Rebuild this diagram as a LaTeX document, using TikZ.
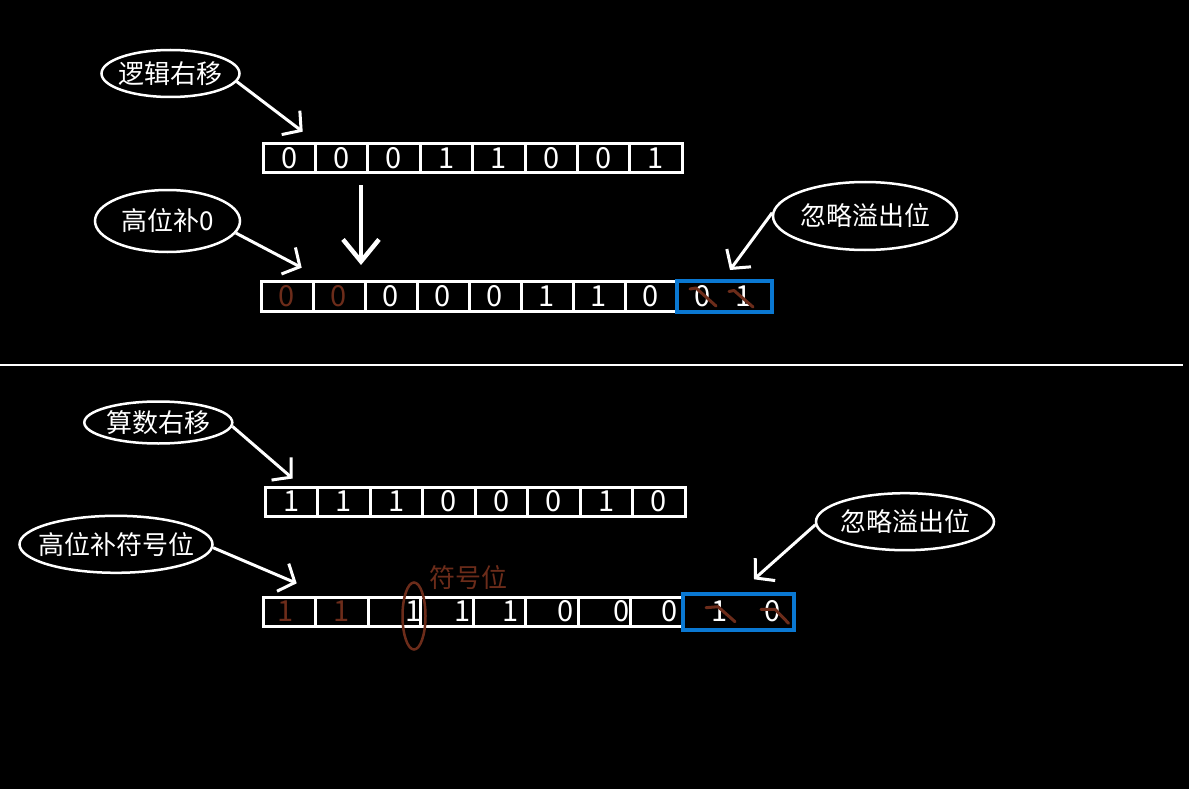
\documentclass[tikz,border=0pt]{standalone}
\usepackage{fontspec}
\newfontfamily\cjkfont{Noto Sans CJK SC}
\newcommand\pictxt{\cjkfont\fontsize{26}{30}\selectfont}
\newcommand\bittxt{\cjkfont\fontsize{29}{32}\selectfont}
\usetikzlibrary{arrows.meta,shapes.geometric}
\definecolor{rust}{RGB}{108,44,26}
\definecolor{frameblue}{RGB}{10,120,210}
\begin{document}
\begin{tikzpicture}[
    x=1pt, y=-1pt,
    every node/.style={text=white, font=\pictxt, inner sep=0pt},
    bit/.style={rectangle, draw=white, line width=3pt, minimum height=29pt, font=\bittxt},
    dig/.style={font=\bittxt},
    tag/.style={ellipse, draw=white, line width=2.5pt, inner xsep=-16pt, inner ysep=0pt},
    pnt/.style={draw=white, line width=3pt, -{Straight Barb[length=13pt, width=30pt]}},
    drop/.style={draw=frameblue, line width=4pt},
    strike/.style={draw=rust, line width=3pt, line cap=round, line join=round}
]
\fill[black] (0,0) rectangle (1189,789);
\useasboundingbox (0,0) rectangle (1189,789);

% logical shift
\node[bit, minimum width=52.4pt] (a1) at (289.2,158) {0};
\node[bit, minimum width=52.4pt] (a2) at (341.6,158) {0};
\node[bit, minimum width=52.4pt] (a3) at (394.0,158) {0};
\node[bit, minimum width=52.4pt] (a4) at (446.4,158) {1};
\node[bit, minimum width=52.4pt] (a5) at (498.8,158) {1};
\node[bit, minimum width=52.4pt] (a6) at (551.2,158) {0};
\node[bit, minimum width=52.4pt] (a7) at (603.6,158) {0};
\node[bit, minimum width=52.4pt] (a8) at (656.0,158) {1};

\node[bit, minimum width=52pt, minimum height=30pt, text=rust] (b1) at (287,296) {0};
\node[bit, minimum width=52pt, minimum height=30pt, text=rust] (b2) at (339,296) {0};
\node[bit, minimum width=52pt, minimum height=30pt] (b3) at (391,296) {0};
\node[bit, minimum width=52pt, minimum height=30pt] (b4) at (443,296) {0};
\node[bit, minimum width=52pt, minimum height=30pt] (b5) at (495,296) {0};
\node[bit, minimum width=52pt, minimum height=30pt] (b6) at (547,296) {1};
\node[bit, minimum width=52pt, minimum height=30pt] (b7) at (599,296) {1};
\node[bit, minimum width=52pt, minimum height=30pt] (b8) at (651,296) {0};
\node[drop, minimum width=95pt, minimum height=31pt] (ov1) at (724.5,296.5) {};
\node[dig] (b9) at (703,296) {0};
\node[dig] (b10) at (744,296) {1};
\draw[strike] (690,289) -- (696,288) -- (716,306);
\draw[strike] (729,291.5) -- (734,290.5) -- (753,307);

\node[tag, minimum width=138pt, minimum height=47pt] (lshift) at (170.5,73.5) {逻辑右移};
\node[tag, minimum width=145pt, minimum height=62pt] (fill0) at (167.5,221) {高位补0};
\node[tag, minimum width=184pt, minimum height=68pt] (lost1) at (865,216) {忽略溢出位};

\coordinate (t1) at (302.7,131.7);
\coordinate (t2) at (301.7,267.7);
\coordinate (t3) at (730,270);
\coordinate (down1) at (361,185);
\coordinate (down2) at (361,265);

\draw[pnt] (lshift.-7) -- (t1);
\draw[pnt] (fill0.-10) -- (t2);
\draw[pnt] (lost1.178) -- (t3);
\draw[draw=white, line width=4.5pt, -{Straight Barb[length=22pt, width=36pt]}] (down1) -- (down2);

\draw[white, line width=2pt] (0,365) -- (1183,365);

% arithmetic shift
\node[bit, minimum width=52.5pt] (c1) at (291.25,501.5) {1};
\node[bit, minimum width=52.5pt] (c2) at (343.75,501.5) {1};
\node[bit, minimum width=52.5pt] (c3) at (396.25,501.5) {1};
\node[bit, minimum width=52.5pt] (c4) at (448.75,501.5) {0};
\node[bit, minimum width=52.5pt] (c5) at (501.25,501.5) {0};
\node[bit, minimum width=52.5pt] (c6) at (553.75,501.5) {0};
\node[bit, minimum width=52.5pt] (c7) at (606.25,501.5) {1};
\node[bit, minimum width=52.5pt] (c8) at (658.75,501.5) {0};

\node[bit, minimum width=52.5pt] (d1) at (289.25,611.5) {};
\node[bit, minimum width=52.5pt] (d2) at (341.75,611.5) {};
\node[bit, minimum width=52.5pt] (d3) at (394.25,611.5) {};
\node[bit, minimum width=52.5pt] (d4) at (446.75,611.5) {};
\node[bit, minimum width=52.5pt] (d5) at (499.25,611.5) {};
\node[bit, minimum width=52.5pt] (d6) at (551.75,611.5) {};
\node[bit, minimum width=52.5pt] (d7) at (604.25,611.5) {};
\node[bit, minimum width=52.5pt] (d8) at (656.75,611.5) {};
\node[drop, minimum width=110.5pt, minimum height=36.5pt] (ov2) at (738.3,611.75) {};

\node[dig, text=rust] (e1) at (286,611.5) {1};
\node[dig, text=rust] (e2) at (342,611.5) {1};
\node[dig] (e3) at (414,611.5) {1};
\node[dig] (e4) at (462.5,611.5) {1};
\node[dig] (e5) at (510.7,611.5) {1};
\node[dig] (e6) at (566,611.5) {0};
\node[dig] (e7) at (621.4,611.5) {0};
\node[dig] (e8) at (669.6,611.5) {0};
\node[dig] (e9) at (719.6,611.5) {1};
\node[dig] (e10) at (773,611.5) {0};
\draw[strike] (706,607.7) -- (718,606.7) -- (735,621.7);
\draw[strike] (761,609.3) -- (775,609.3) -- (788.6,623.3);

\node[ellipse, draw=rust, line width=2.5pt, minimum width=23pt, minimum height=67pt] (sign) at (414,616) {};
\node[text=rust] (signtxt) at (468,578) {符号位};

\node[tag, minimum width=148pt, minimum height=42pt] (ashift) at (158.3,422.5) {算数右移};
\node[tag, minimum width=193pt, minimum height=57pt] (fillsign) at (116,544.3) {高位补符号位};
\node[tag, minimum width=178pt, minimum height=57pt] (lost2) at (905,521.7) {忽略溢出位};

\coordinate (t4) at (292.7,478.5);
\coordinate (t5) at (296.7,583.3);
\coordinate (t6) at (754,579.3);

\draw[pnt] (ashift.-3) -- (t4);
\draw[pnt] (fillsign.-2) -- (t5);
\draw[pnt] (lost2.182) -- (t6);
\end{tikzpicture}
\end{document}
